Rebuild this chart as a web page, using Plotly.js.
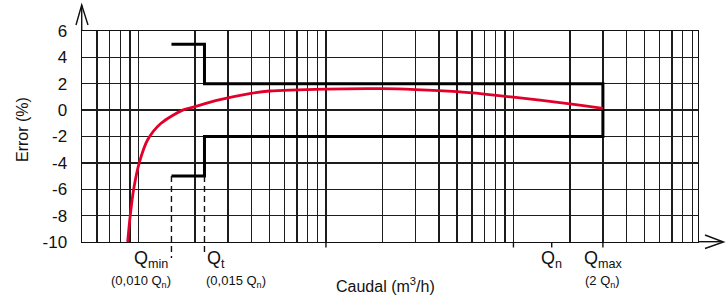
<!DOCTYPE html>
<html>
<head>
<meta charset="utf-8">
<script src="https://cdn.plot.ly/plotly-3.0.1.min.js"></script>
<style>html,body{margin:0;padding:0;background:#fff}#chart{width:728px;height:300px}</style>
</head>
<body>
<div id="chart"></div>
<script>
// Error curve of the meter (flow in m3/h, error in %)
var flow = [0.0876, 0.0904, 0.0943, 0.101, 0.112, 0.132, 0.172, 0.198, 0.265, 0.398, 0.5, 1.0, 2.0, 3.0, 5.0, 7.0, 10, 20, 30];
var errorPct = [-10, -8, -6, -4, -2.25, -1.0, 0.0, 0.25, 0.75, 1.27, 1.45, 1.6, 1.63, 1.56, 1.40, 1.22, 0.98, 0.48, 0.13];

// Characteristic flows
var Qmin = 0.15, Qt = 0.225, Qn = 16, Qmax = 30;
// Maximum permissible error limits
var lowZoneLimit = 5, highZoneLimit = 2;

var envX = [Qmin, Qt, Qt, Qmax, Qmax, Qt, Qt, Qmin];
var envY = [lowZoneLimit, lowZoneLimit, highZoneLimit, highZoneLimit, -highZoneLimit, -highZoneLimit, -lowZoneLimit, -lowZoneLimit];

var yTicks = [-10, -8, -6, -4, -2, 0, 2, 4, 6];
var yTickText = ['-10', '-8', '-6', '-4', '-2', '0', '2', '4', '6'];
var xMarkTicks = [1, 10, Qn, Qmax];

// log grid: every integer multiple inside each decade
var gridVals = [];
[0.01, 0.1, 1, 10].forEach(function (d) {
  for (var m = 1; m <= 9; m++) { var v = m * d; if (v >= 0.05 && v <= 95) gridVals.push(v); }
});

var W = 728, H = 300;
var L = 82, R = 698, T = 31, B = 242;
function px(x) { return (x - L) / (R - L); }
function py(y) { return (B - y) / (B - T); }
var ink = '#111';
var font = 'Liberation Sans, Arial, Helvetica, sans-serif';

var traces = [
  { x: envX, y: envY, mode: 'lines', line: { color: '#000', width: 3 }, hoverinfo: 'skip' },
  { x: flow, y: errorPct, mode: 'lines', line: { color: '#e2002b', width: 2.8, shape: 'spline', smoothing: 0.8 }, hoverinfo: 'skip' }
];

var shapes = [
  // dashed markers at Qmin and Qt
  { type: 'line', xref: 'x', yref: 'paper', x0: Qmin, x1: Qmin, y0: py(176), y1: py(258), line: { color: ink, width: 1.4, dash: '6px,4px' } },
  { type: 'line', xref: 'x', yref: 'paper', x0: Qt, x1: Qt, y0: py(176), y1: py(253), line: { color: ink, width: 1.4, dash: '6px,4px' } },
  // y-axis arrow
  { type: 'line', xref: 'paper', yref: 'paper', x0: px(81.7), x1: px(81.7), y0: py(31), y1: py(5), line: { color: ink, width: 1.4 } },
  // x-axis arrow
  { type: 'line', xref: 'paper', yref: 'paper', x0: px(698), x1: px(723), y0: py(241.7), y1: py(241.7), line: { color: ink, width: 1.4 } }
];
xMarkTicks.forEach(function (v) {
  shapes.push({ type: 'line', xref: 'x', yref: 'paper', x0: v, x1: v, y0: py(242), y1: py(247.5), line: { color: ink, width: 1.4 } });
});
function P(x, y) { return px(x) + ',' + py(y); }
shapes.push({ type: 'path', xref: 'paper', yref: 'paper', path: 'M' + P(76, 25) + ' L' + P(81.7, 5) + ' L' + P(88, 25), line: { color: ink, width: 1.4 } });
shapes.push({ type: 'path', xref: 'paper', yref: 'paper', path: 'M' + P(705, 235) + ' L' + P(723.5, 242) + ' L' + P(705, 248.5), line: { color: ink, width: 1.4 } });

function ann(o) {
  return Object.assign({ showarrow: false, xanchor: 'center', yanchor: 'middle' }, o);
}

var layout = {
  width: W, height: H,
  margin: { l: L, r: W - R, t: T, b: H - B, pad: 0 },
  paper_bgcolor: '#fff', plot_bgcolor: '#fff',
  showlegend: false,
  font: { family: font, size: 16, color: ink },
  xaxis: {
    type: 'log', range: [Math.log10(0.05), Math.log10(0.05) + (R - L) / 187.5],
    tickmode: 'array', tickvals: gridVals,
    ticks: '', showticklabels: false,
    showgrid: true, gridcolor: '#1c1c1c', gridwidth: 1.4, zeroline: false,
    showline: true, mirror: true, linecolor: ink, linewidth: 1.4,
    fixedrange: true
  },
  yaxis: {
    range: [-10, 6], tickmode: 'array', tickvals: yTicks, ticktext: yTickText,
    ticks: '', ticklabelstandoff: 10,
    tickfont: { size: 17, color: ink, family: font },
    showgrid: true, gridcolor: '#1c1c1c', gridwidth: 1.4, zeroline: false,
    showline: true, mirror: true, linecolor: ink, linewidth: 1.4,
    fixedrange: true
  },
  shapes: shapes,
  annotations: [
    ann({ xref: 'paper', yref: 'paper', x: px(22), y: py(130), text: 'Error (%)', textangle: -90, font: { size: 16, color: ink, family: font } }),
    ann({ xref: 'paper', yref: 'paper', x: px(385), y: py(285), text: 'Caudal (m<sup>3</sup>/h)', font: { size: 16, color: ink, family: font } }),
    ann({ xref: 'x', yref: 'paper', x: Math.log10(Qmin), xanchor: 'right', xshift: -1, y: py(259), text: 'Q<sub>min</sub>', font: { size: 18, color: ink, family: font } }),
    ann({ xref: 'x', yref: 'paper', x: Math.log10(Qmin), xanchor: 'right', xshift: 2, y: py(281), text: '(0,010 Q<sub>n</sub>)', font: { size: 13, color: ink, family: font } }),
    ann({ xref: 'x', yref: 'paper', x: Math.log10(Qt), xanchor: 'left', xshift: 1, y: py(259), text: 'Q<sub>t</sub>', font: { size: 18, color: ink, family: font } }),
    ann({ xref: 'x', yref: 'paper', x: Math.log10(Qt), xanchor: 'left', xshift: 0, y: py(281), text: '(0,015 Q<sub>n</sub>)', font: { size: 13, color: ink, family: font } }),
    ann({ xref: 'x', yref: 'paper', x: Math.log10(Qn), y: py(259), text: 'Q<sub>n</sub>', font: { size: 18, color: ink, family: font } }),
    ann({ xref: 'x', yref: 'paper', x: Math.log10(Qmax), xshift: 1, y: py(259), text: 'Q<sub>max</sub>', font: { size: 18, color: ink, family: font } }),
    ann({ xref: 'x', yref: 'paper', x: Math.log10(Qmax), y: py(281), text: '(2 Q<sub>n</sub>)', font: { size: 13, color: ink, family: font } })
  ]
};

Plotly.newPlot('chart', traces, layout, { displayModeBar: false, staticPlot: true });
</script>
</body>
</html>
